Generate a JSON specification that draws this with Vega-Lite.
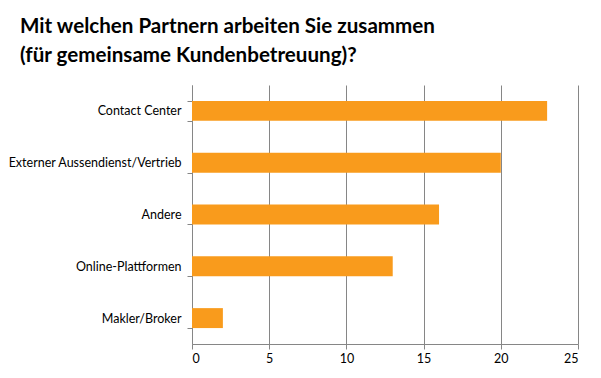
{
  "$schema": "https://vega.github.io/schema/vega-lite/v6.json",
  "autosize": "none",
  "width": 386,
  "height": 259,
  "padding": {"left": 192, "top": 85, "right": 23, "bottom": 34},
  "background": "white",
  "title": {
    "text": ["Mit welchen Partnern arbeiten Sie zusammen", "(für gemeinsame Kundenbetreuung)?"],
    "anchor": "start",
    "frame": "group",
    "dx": -172,
    "offset": 12,
    "font": "Lato",
    "fontSize": 20.6,
    "fontWeight": "bold",
    "color": "#000000",
    "lineHeight": 29
  },
  "data": {
    "values": [
      {"partner": "Contact Center", "wert": 23},
      {"partner": "Externer Aussendienst/Vertrieb", "wert": 20},
      {"partner": "Andere", "wert": 16},
      {"partner": "Online-Plattformen", "wert": 13},
      {"partner": "Makler/Broker", "wert": 2}
    ]
  },
  "mark": {"type": "bar", "color": "#F99B1C"},
  "encoding": {
    "y": {
      "field": "partner",
      "type": "nominal",
      "sort": null,
      "scale": {"paddingInner": 0.615, "paddingOuter": 0.3075},
      "axis": {
        "title": null,
        "tickBand": "extent",
        "grid": false,
        "domainColor": "#868686",
        "tickColor": "#868686",
        "tickSize": 5,
        "labelPadding": 6,
        "labelFont": "Lato",
        "labelFontSize": 12.5,
        "labelColor": "#000000"
      }
    },
    "x": {
      "field": "wert",
      "type": "quantitative",
      "scale": {"domain": [0, 25], "nice": false},
      "axis": {
        "title": null,
        "values": [0, 5, 10, 15, 20, 25],
        "grid": true,
        "gridColor": "#868686",
        "domainColor": "#868686",
        "tickColor": "#868686",
        "tickSize": 5,
        "labelPadding": 3,
        "labelFont": "Lato",
        "labelFontSize": 12.5,
        "labelColor": "#000000"
      }
    }
  },
  "config": {"view": {"stroke": null}}
}
